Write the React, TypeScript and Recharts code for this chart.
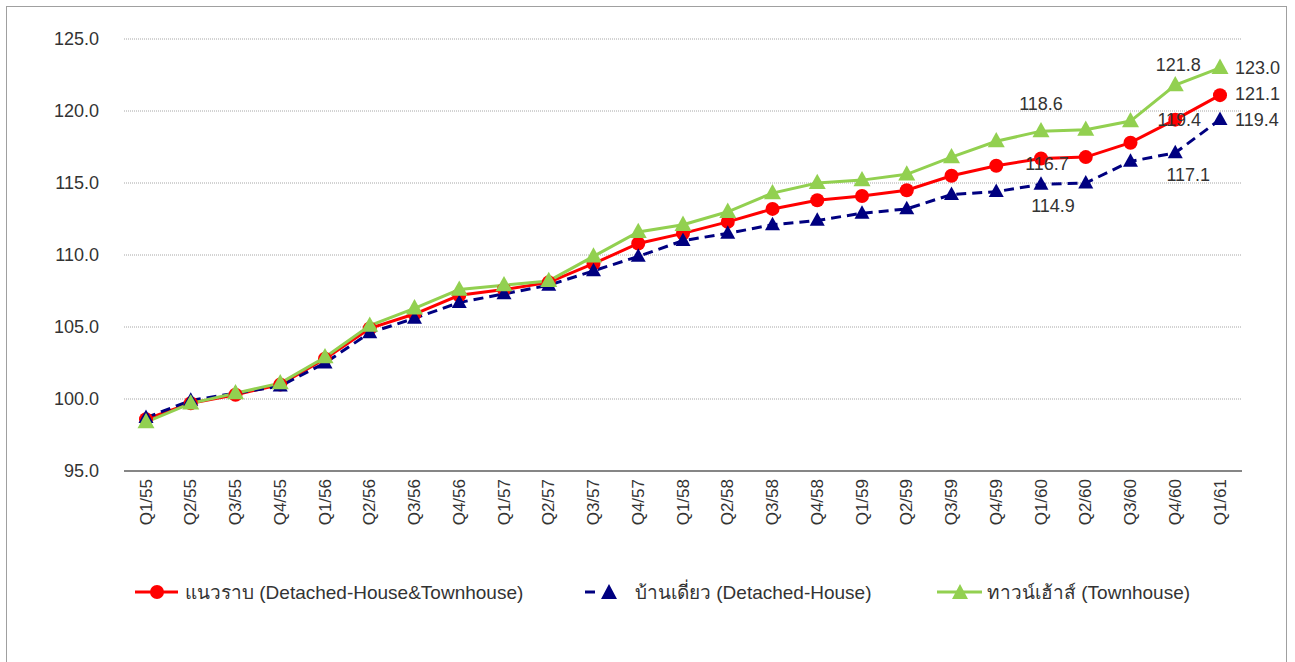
import { CartesianGrid, LabelList, Line, LineChart, XAxis, YAxis } from "recharts";

// Quarter labels (Thai Buddhist years)
const QUARTERS = [
  "Q1/55", "Q2/55", "Q3/55", "Q4/55",
  "Q1/56", "Q2/56", "Q3/56", "Q4/56",
  "Q1/57", "Q2/57", "Q3/57", "Q4/57",
  "Q1/58", "Q2/58", "Q3/58", "Q4/58",
  "Q1/59", "Q2/59", "Q3/59", "Q4/59",
  "Q1/60", "Q2/60", "Q3/60", "Q4/60",
  "Q1/61",
];

const LOW_RISE = [
  98.6, 99.7, 100.3, 101.0, 102.8, 104.9, 105.9, 107.2, 107.6, 108.1, 109.4, 110.8,
  111.5, 112.3, 113.2, 113.8, 114.1, 114.5, 115.5, 116.2, 116.7, 116.8, 117.8, 119.4,
  121.1,
];

const DETACHED = [
  98.7, 99.9, 100.4, 100.9, 102.5, 104.6, 105.6, 106.7, 107.3, 107.9, 108.9, 109.9,
  111.0, 111.5, 112.1, 112.4, 112.9, 113.2, 114.2, 114.4, 114.9, 115.0, 116.5, 117.1,
  119.4,
];

const TOWNHOUSE = [
  98.4, 99.7, 100.4, 101.1, 102.9, 105.1, 106.3, 107.6, 107.9, 108.2, 109.9, 111.6,
  112.1, 113.0, 114.3, 115.0, 115.2, 115.6, 116.8, 117.9, 118.6, 118.7, 119.3, 121.8,
  123.0,
];

const Y_TICKS = [95, 100, 105, 110, 115, 120, 125];

const RED = "#FF0000";
const NAVY = "#000080";
const GREEN = "#92D050";
const TEXT = "#333333";
const FONT = "'Liberation Sans', Arial, sans-serif";

const data = QUARTERS.map((q, i) => ({
  q,
  lowRise: LOW_RISE[i],
  detached: DETACHED[i],
  townhouse: TOWNHOUSE[i],
}));

// which points get a value label, and where it sits relative to the marker
type LabelSpot = { dx: number; dy: number; anchor: "middle" | "start" };
const LABELS: Record<string, Record<number, LabelSpot>> = {
  lowRise: {
    20: { dx: 6, dy: 5, anchor: "middle" },
    23: { dx: 4, dy: 0, anchor: "middle" },
    24: { dx: 15, dy: -1, anchor: "start" },
  },
  detached: {
    20: { dx: 12, dy: 22, anchor: "middle" },
    23: { dx: 13, dy: 22, anchor: "middle" },
    24: { dx: 15, dy: 0, anchor: "start" },
  },
  townhouse: {
    20: { dx: 0, dy: -27, anchor: "middle" },
    23: { dx: 3, dy: -20, anchor: "middle" },
    24: { dx: 15, dy: 0, anchor: "start" },
  },
};

function makeLabel(key: string) {
  return (props: any) => {
    const { x, y, value, index } = props;
    const spot = LABELS[key][index];
    if (!spot) return null;
    return (
      <text
        x={x + spot.dx}
        y={y + spot.dy}
        textAnchor={spot.anchor}
        dominantBaseline="central"
        fill={TEXT}
        fontSize={18}
        fontFamily={FONT}
      >
        {Number(value).toFixed(1)}
      </text>
    );
  };
}

function triangle(color: string, size: number) {
  return (props: any) => {
    const { cx, cy, index } = props;
    if (cx == null || cy == null) return null;
    const h = size * 0.9;
    return (
      <path
        key={index}
        d={`M${cx},${cy - h * 0.6} L${cx + size / 2},${cy + h * 0.4} L${cx - size / 2},${cy + h * 0.4} Z`}
        fill={color}
      />
    );
  };
}

function XTick(props: any) {
  const { x, y, payload } = props;
  return (
    <text
      x={x}
      y={y}
      transform={`rotate(-90, ${x}, ${y})`}
      textAnchor="end"
      dominantBaseline="central"
      fill={TEXT}
      fontSize={17}
      fontFamily={FONT}
    >
      {payload.value}
    </text>
  );
}

function LegendBox() {
  const item = (icon: React.ReactNode, label: string, left: number) => (
    <div style={{ position: "absolute", left, top: 0, display: "flex", alignItems: "center" }}>
      <svg width={50} height={20}>{icon}</svg>
      <span style={{ fontSize: 19, color: TEXT, fontFamily: FONT, whiteSpace: "nowrap" }}>{label}</span>
    </div>
  );
  return (
    <div style={{ position: "absolute", left: 0, top: 577, width: 1295, height: 24 }}>
      {item(
        <g>
          <line x1={0} y1={10} x2={43} y2={10} stroke={RED} strokeWidth={3} />
          <circle cx={22} cy={10} r={7} fill={RED} />
        </g>,
        "แนวราบ (Detached-House&Townhouse)",
        135
      )}
      {item(
        <g>
          <line x1={0} y1={10} x2={10} y2={10} stroke={NAVY} strokeWidth={3} />
          <path d="M24,2 L32,17 L16,17 Z" fill={NAVY} />
        </g>,
        "บ้านเดี่ยว (Detached-House)",
        585
      )}
      {item(
        <g>
          <line x1={0} y1={10} x2={45} y2={10} stroke={GREEN} strokeWidth={3} />
          <path d="M23,2 L31,17 L15,17 Z" fill={GREEN} />
        </g>,
        "ทาวน์เฮ้าส์ (Townhouse)",
        937
      )}
    </div>
  );
}

export default function App() {
  return (
    <div
      style={{
        position: "absolute",
        left: 0,
        top: 0,
        width: 1295,
        height: 662,
        overflow: "hidden",
        background: "#fff",
      }}
    >
      <div
        style={{
          position: "absolute",
          left: 6,
          top: 6,
          width: 1279,
          height: 700,
          border: "1.5px solid #A0A0A0",
        }}
      />
      <div style={{ position: "absolute", left: 0, top: 0 }}>
        <LineChart
          width={1295}
          height={662}
          data={data}
          margin={{ top: 39, right: 53, bottom: 131, left: 24 }}
        >
          <CartesianGrid vertical={false} stroke="#A6A6A6" strokeDasharray="1 1" />
          <XAxis
            dataKey="q"
            interval={0}
            height={60}
            padding={{ left: 22, right: 22 }}
            tickLine={false}
            axisLine={{ stroke: "#868686", strokeWidth: 2 }}
            tick={<XTick />}
          />
          <YAxis
            width={100}
            domain={[95, 125]}
            ticks={Y_TICKS}
            tickFormatter={(v: number) => v.toFixed(1)}
            tickLine={false}
            axisLine={false}
            tickSize={6}
            tickMargin={19}
            tick={{ fill: TEXT, fontSize: 18, fontFamily: FONT }}
          />
          <Line
            dataKey="lowRise"
            stroke={RED}
            strokeWidth={3}
            dot={{ r: 7, fill: RED, stroke: "none" }}
            isAnimationActive={false}
          >
            <LabelList dataKey="lowRise" content={makeLabel("lowRise")} />
          </Line>
          <Line
            dataKey="detached"
            stroke={NAVY}
            strokeWidth={3}
            strokeDasharray="10 6"
            dot={triangle(NAVY, 15)}
            isAnimationActive={false}
          >
            <LabelList dataKey="detached" content={makeLabel("detached")} />
          </Line>
          <Line
            dataKey="townhouse"
            stroke={GREEN}
            strokeWidth={3}
            dot={triangle(GREEN, 17)}
            isAnimationActive={false}
          >
            <LabelList dataKey="townhouse" content={makeLabel("townhouse")} />
          </Line>
        </LineChart>
      </div>
      <LegendBox />
    </div>
  );
}
